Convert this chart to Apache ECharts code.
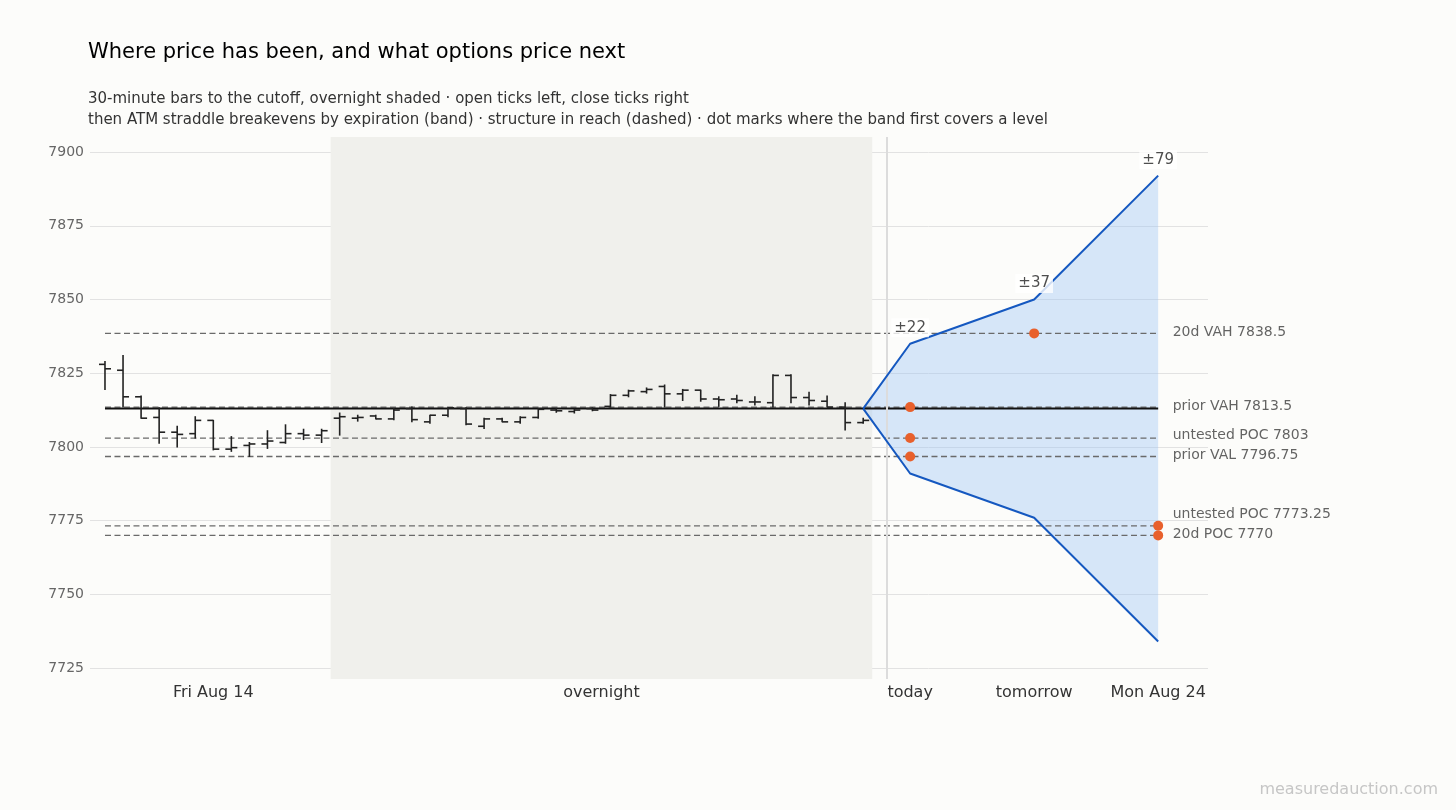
<!DOCTYPE html>
<html><head><meta charset="utf-8">
<script src="https://cdn.jsdelivr.net/npm/echarts@6/dist/echarts.min.js"></script>
<style>html,body{margin:0;padding:0;background:#fcfcfa;}#c{width:1456px;height:810px;}</style>
</head><body><div id="c"></div>
<script>
// ---- data ----
const barOpen  = [7828,7826,7817,7810,7805,7804.5,7809,7799.25,7800.5,7801,7801.5,7804.5,7804,
  7809.75,7809.75,7810.5,7809.5,7813,7808.5,7810.75,7813,7807,7809.5,7808.5,7810,7812.5,7812,7813,7813.75,7817.5,7818.75,7820.5,7818,7819.25,7816.25,7816.25,7815.25,7815,7824.25,7816.75,7815.5,7813.5,7808.25];
const barHigh  = [7829,7831,7817.25,7813.25,7807,7810.25,7809,7803.5,7801.5,7805.5,7807.5,7806,7806,
  7811.5,7810.75,7810.75,7813,7813.5,7810.75,7813.25,7813.25,7809.75,7809.75,7810.25,7813,7813,7812.75,7813.25,7817.75,7819.25,7820,7821,7819.5,7819.25,7817,7817.5,7817,7824.5,7824.5,7818.5,7817.25,7815,7809.75];
const barLow   = [7819.5,7813.5,7809.75,7801.25,7800,7803,7799,7798.5,7796.75,7799.5,7801.25,7802.5,7801.5,
  7804,7808.75,7809.5,7809.25,7808.5,7808,7810.25,7807.5,7806.25,7808.5,7808,7809.75,7811.75,7811.5,7812.25,7813.5,7817,7818.25,7813.5,7815.75,7815.5,7813.75,7815,7814.25,7813.5,7815,7814.25,7813.5,7805.75,7808];
const barClose = [7826.5,7817,7809.75,7805,7804.25,7809,7799.25,7799.75,7801,7802,7804.5,7804,7805.5,
  7810.25,7810,7809.5,7812.5,7809.25,7810.75,7813.25,7807.75,7809.5,7808.5,7810,7812.75,7812.25,7812.5,7812.5,7817.5,7819,7819.5,7818,7819.25,7816.25,7816,7815.75,7815.25,7824.25,7816.75,7815.75,7813.5,7808.25,7809];
const sessionNames = ['Fri Aug 14', 'overnight'];
const sessionStart = [0, 13];
const cutoffPrice = 7813;
const expiryNames = ['today', 'tomorrow', 'Mon Aug 24'];
const straddleMove = [22, 37, 79];
const levelNames  = ['20d VAH', 'prior VAH', 'untested POC', 'prior VAL', 'untested POC', '20d POC'];
const levelValues = [7838.5, 7813.5, 7803, 7796.75, 7773.25, 7770];
const yTicks = [7725, 7750, 7775, 7800, 7825, 7850, 7875, 7900];

// ---- layout ----
const FONT = 'DejaVu Sans';
const GRID = {left: 90, right: 248, top: 137, bottom: 131};
const X_MIN = -0.83, X_MAX = 61.1;
const Y_MIN = 7721.3, Y_MAX = 7905.1;
const EXPIRY_GAP = 2.6, EXPIRY_STEP = 6.87;

const nBars = barOpen.length;
const cutoffX = nBars - 1;
const expiryX = expiryNames.map((_, i) => cutoffX + EXPIRY_GAP + i * EXPIRY_STEP);
const lastX = expiryX[expiryX.length - 1];
const sepX = cutoffX + EXPIRY_GAP / 2;
const sessionEnd = sessionStart.map((s, i) => i + 1 < sessionStart.length ? sessionStart[i + 1] - 1 : cutoffX);
const sessionCenter = sessionStart.map((s, i) => (s + sessionEnd[i]) / 2);

const xLabelVals = sessionCenter.concat(expiryX);
const xLabelNames = sessionNames.concat(expiryNames);

const ohlcData = barOpen.map((o, i) => [i, o, barHigh[i], barLow[i], barClose[i]]);
const upperPts = [[cutoffX, cutoffPrice]].concat(expiryX.map((x, i) => [x, cutoffPrice + straddleMove[i]]));
const lowerPts = [[cutoffX, cutoffPrice]].concat(expiryX.map((x, i) => [x, cutoffPrice - straddleMove[i]]));

// first expiry whose band covers each level
const dotData = [];
levelValues.forEach(v => {
  for (let i = 0; i < expiryX.length; i++) {
    if (v <= cutoffPrice + straddleMove[i] && v >= cutoffPrice - straddleMove[i]) { dotData.push([expiryX[i], v]); break; }
  }
});

// level label de-overlap (push upward)
const pxPerUnit = (810 - GRID.top - GRID.bottom) / (Y_MAX - Y_MIN);
const labelDy = levelValues.map(() => 0);
const order = levelValues.map((v, i) => i).sort((a, b) => levelValues[a] - levelValues[b]);
let prevY = Infinity;
order.forEach(i => {
  const y = (Y_MAX - levelValues[i]) * pxPerUnit;
  const ly = Math.min(y, prevY - 20);
  labelDy[i] = ly - y - 1;
  prevY = ly;
});

const series = [];
// overnight shade + separator
series.push({
  type: 'line', data: [], z: 1, silent: true,
  markArea: {silent: true, itemStyle: {color: '#f0f0ec'}, data: [[{xAxis: sessionStart[1] - 0.5}, {xAxis: cutoffX + 0.5}]]},
  markLine: {silent: true, symbol: 'none', label: {show: false}, lineStyle: {color: '#dcdcdc', width: 2, type: 'solid'}, data: [{xAxis: sepX}]}
});
// band fill
series.push({
  type: 'custom', z: 2, silent: true, data: [[cutoffX, cutoffPrice]],
  renderItem: (p, api) => {
    const pts = upperPts.map(d => api.coord(d)).concat(lowerPts.slice().reverse().map(d => api.coord(d)));
    return {type: 'polygon', shape: {points: pts}, style: {fill: 'rgba(158,198,245,0.4)'}};
  }
});
// level lines
levelValues.forEach((v, i) => {
  series.push({
    type: 'line', z: 3, silent: true, symbol: 'none', data: [[0, v], [lastX, v]],
    lineStyle: {color: '#6a6a6a', width: 1.3, type: [6, 3.5]}
  });
});
// cutoff line
series.push({
  type: 'line', z: 4, silent: true, symbol: 'none', data: [[0, cutoffPrice], [lastX, cutoffPrice]],
  lineStyle: {color: '#111', width: 2}
});
// OHLC bars
series.push({
  type: 'custom', z: 5, silent: true, data: ohlcData, encode: {x: 0, y: [1, 2, 3, 4]},
  renderItem: (p, api) => {
    const x = api.value(0);
    const pH = api.coord([x, api.value(2)]), pL = api.coord([x, api.value(3)]);
    const pO = api.coord([x, api.value(1)]), pC = api.coord([x, api.value(4)]);
    const st = {stroke: '#222', lineWidth: 1.6};
    const t = 6;
    return {type: 'group', children: [
      {type: 'line', shape: {x1: pH[0], y1: pH[1] - 0.5, x2: pL[0], y2: pL[1] + 0.5}, style: st},
      {type: 'line', shape: {x1: pO[0] - t, y1: pO[1], x2: pO[0], y2: pO[1]}, style: st},
      {type: 'line', shape: {x1: pC[0], y1: pC[1], x2: pC[0] + t, y2: pC[1]}, style: st}
    ]};
  }
});
// band edges
[upperPts, lowerPts].forEach(pts => {
  series.push({type: 'line', z: 6, silent: true, symbol: 'none', data: pts, lineStyle: {color: '#1558c0', width: 2}});
});
// move labels
series.push({
  type: 'scatter', z: 8, silent: true, symbolSize: 1, itemStyle: {color: 'rgba(0,0,0,0)'},
  data: upperPts.slice(1).map((d, i) => ({value: d, label: {formatter: '±' + straddleMove[i]}})),
  label: {show: true, position: 'top', distance: 6, color: '#222', fontFamily: FONT, fontSize: 15,
    backgroundColor: '#ffffff', padding: [2, 3]},
  labelLayout: {hideOverlap: false}
});
// level labels
series.push({
  type: 'scatter', z: 8, silent: true, symbolSize: 1, itemStyle: {color: 'rgba(0,0,0,0)'},
  data: levelValues.map((v, i) => ({value: [lastX, v], label: {formatter: levelNames[i] + ' ' + v}})),
  label: {show: true, position: 'right', distance: 14, color: '#3c3c3c', fontFamily: FONT, fontSize: 14},
  labelLayout: params => ({dy: labelDy[params.dataIndex], hideOverlap: false})
});
// dots
series.push({
  type: 'scatter', z: 9, silent: true, symbol: 'circle', symbolSize: 10, data: dotData,
  itemStyle: {color: '#e8602c', opacity: 1}
});

const option = {
  backgroundColor: '#fcfcfa',
  animation: false,
  title: {
    text: 'Where price has been, and what options price next',
    subtext: '30-minute bars to the cutoff, overnight shaded · open ticks left, close ticks right\nthen ATM straddle breakevens by expiration (band) · structure in reach (dashed) · dot marks where the band first covers a level',
    left: 88, top: 40, padding: 0, itemGap: 24,
    textStyle: {fontFamily: FONT, fontSize: 21, fontWeight: 'normal', color: '#000', lineHeight: 25},
    subtextStyle: {fontFamily: FONT, fontSize: 15, color: '#333', lineHeight: 21}
  },
  graphic: [{type: 'text', right: 18, top: 782, style: {text: 'measuredauction.com', fontFamily: FONT, fontSize: 16, fill: '#c6c6c6'}}],
  grid: Object.assign({outerBoundsMode: 'none', containLabel: false}, GRID),
  xAxis: {
    type: 'value', min: X_MIN, max: X_MAX,
    axisLine: {show: false}, axisTick: {show: false}, splitLine: {show: false},
    axisLabel: {
      customValues: xLabelVals, margin: 6, color: '#333', fontFamily: FONT, fontSize: 16,
      formatter: v => { let k = 0, b = Infinity; xLabelVals.forEach((x, i) => { if (Math.abs(x - v) < b) { b = Math.abs(x - v); k = i; } }); return xLabelNames[k]; }
    }
  },
  yAxis: {
    type: 'value', min: Y_MIN, max: Y_MAX,
    axisLine: {show: false},
    axisTick: {show: false, customValues: yTicks},
    axisLabel: {customValues: yTicks, margin: 6, color: '#666', fontFamily: FONT, fontSize: 14, formatter: v => String(Math.round(v))},
    splitLine: {show: true, lineStyle: {color: '#e2e2e2', width: 1}}
  },
  series: series
};
const chart = echarts.init(document.getElementById('c'), null, {renderer: 'canvas'});
chart.setOption(option);
</script></body></html>
